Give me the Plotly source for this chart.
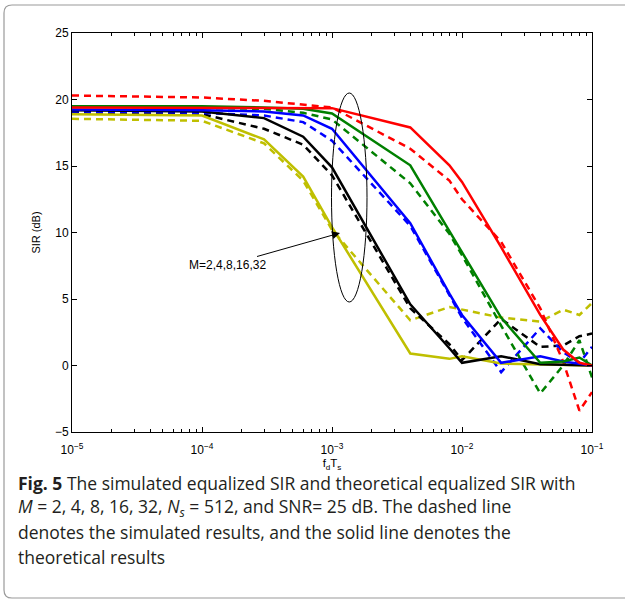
import plotly.graph_objects as go

# ---- data ----
fdTs = [1e-5, 1e-4, 3e-4, 6e-4, 1e-3, 4e-3, 8e-3, 1e-2, 2e-2, 4e-2, 6e-2, 8e-2, 1e-1]

theory_M2  = [19.4, 19.4, 19.4, 19.4, 19.35, 17.9, 15.05, 13.8, 8.9, 3.8, 1.2, 0.2, 0.0]
sim_M2     = [20.3, 20.15, 19.9, 19.6, 19.4, 16.3, 13.9, 12.5, 9.3, 4.3, 0.3, -3.4, -2.0]
theory_M4  = [19.5, 19.5, 19.4, 19.3, 18.95, 15.05, 10.1, 8.5, 3.6, 0.2, 0.3, 0.6, 0.0]
sim_M4     = [19.5, 19.4, 19.3, 19.0, 18.5, 13.7, 9.9, 8.3, 3.0, -2.1, 0.0, 1.9, -0.9]
theory_M8  = [19.25, 19.2, 19.1, 18.8, 17.8, 10.7, 5.4, 3.8, 0.2, 0.7, 0.3, 0.1, 0.0]
sim_M8     = [19.1, 19.0, 18.8, 18.3, 16.9, 10.5, 5.3, 3.6, -0.5, 2.8, 1.0, 0.2, 1.4]
theory_M16 = [19.2, 19.1, 18.6, 17.2, 14.9, 4.6, 1.3, 0.2, 0.7, 0.1, 0.05, 0.0, 0.0]
sim_M16    = [19.05, 18.9, 17.8, 16.6, 14.3, 4.3, 1.6, 0.4, 3.5, 1.4, 1.5, 2.2, 2.4]
theory_M32 = [18.9, 18.8, 17.0, 14.2, 10.4, 0.9, 0.5, 0.7, 0.15, 0.1, 0.05, 0.0, 0.0]
sim_M32    = [18.55, 18.4, 16.7, 13.9, 10.2, 3.4, 4.4, 4.2, 3.6, 3.3, 4.2, 3.8, 4.7]

x_tickvals = [1e-5, 1e-4, 1e-3, 1e-2, 1e-1]
x_ticktext = ["10<sup>−5</sup>", "10<sup>−4</sup>", "10<sup>−3</sup>", "10<sup>−2</sup>", "10<sup>−1</sup>"]
y_tickvals = [-5, 0, 5, 10, 15, 20, 25]

series = [
    ("M=32", theory_M32, sim_M32, "#BFBF00"),
    ("M=16", theory_M16, sim_M16, "#000000"),
    ("M=8", theory_M8, sim_M8, "#0000FF"),
    ("M=4", theory_M4, sim_M4, "#008000"),
    ("M=2", theory_M2, sim_M2, "#FF0000"),
]

fig = go.Figure()
for name, th, sim, col in series:
    fig.add_trace(go.Scatter(x=fdTs, y=sim, mode="lines", name=name + " sim",
                             line=dict(color=col, width=2.5, dash="7px,5px")))
for name, th, sim, col in series:
    fig.add_trace(go.Scatter(x=fdTs, y=th, mode="lines", name=name + " theory",
                             line=dict(color=col, width=2.5)))

W, H = 625, 606
L, R, T, B = 72, 33, 33, 174
pw, ph = W - L - R, H - T - B

def px(xp):
    return (xp - L) / pw

def py(yp):
    return (H - B - yp) / ph

minor_vals = [m * 10.0 ** e for e in range(-5, -1) for m in range(2, 10)]

axis_font = dict(family="Liberation Sans, Arial, sans-serif", size=12, color="#000")

fig.update_layout(
    width=W, height=H,
    margin=dict(l=L, r=R, t=T, b=B),
    paper_bgcolor="white", plot_bgcolor="white",
    showlegend=False,
    font=axis_font,
    xaxis=dict(
        type="log", range=[-5, -1],
        tickvals=x_tickvals, ticktext=x_ticktext,
        ticks="inside", ticklen=5, tickcolor="#000",
        showline=True, linecolor="#000", linewidth=1, mirror="ticks",
        showgrid=False, zeroline=False,
        minor=dict(tickvals=minor_vals, ticks="inside", ticklen=3, tickcolor="#000", showgrid=False),
        title=dict(text="f<sub>d</sub>T<sub>s</sub>",
                   font=dict(family=axis_font["family"], size=11.5, color="#000"), standoff=0),
        tickfont=axis_font,
        ticklabelstandoff=7,
    ),
    yaxis=dict(
        range=[-5, 25], tickvals=y_tickvals,
        ticks="inside", ticklen=5, tickcolor="#000",
        showline=True, linecolor="#000", linewidth=1, mirror="ticks",
        showgrid=False, zeroline=False,
        title=dict(text="SIR (dB)", font=dict(family=axis_font["family"], size=11, color="#000"), standoff=12),
        tickfont=axis_font,
    ),
)

# ellipse + arrow annotation
fig.add_shape(type="circle", xref="paper", yref="paper",
              x0=px(331.5), x1=px(367), y0=py(302), y1=py(93),
              line=dict(color="#000", width=1))
fig.add_annotation(xref="paper", yref="paper", x=px(340), y=py(233),
                   ax=-113, ay=32, text="M=2,4,8,16,32",
                   showarrow=True, arrowhead=2, arrowsize=1.6, arrowwidth=1,
                   arrowcolor="#000", font=axis_font)

# rounded border frame
x0b, x1b = px(4), px(640)
y0b, y1b = py(598), py(5)
rx, ry = 8 / pw, 8 / ph
path = (f"M {x0b + rx},{y1b} L {x1b},{y1b} L {x1b},{y0b} L {x0b + rx},{y0b} "
        f"Q {x0b},{y0b} {x0b},{y0b + ry} L {x0b},{y1b - ry} Q {x0b},{y1b} {x0b + rx},{y1b} Z")
fig.add_shape(type="path", xref="paper", yref="paper", path=path,
              line=dict(color="#9a9a9a", width=1.2))

# caption
cap_font = dict(family="Open Sans, sans-serif", size=17.5, color="#231f20")
caption_lines = [
    "<b>Fig. 5</b> The simulated equalized SIR and theoretical equalized SIR with",
    "<i>M</i> = 2, 4, 8, 16, 32, <i>N</i><sub><i>s</i></sub> = 512, and SNR= 25 dB. The dashed line",
    "denotes the simulated results, and the solid line denotes the",
    "theoretical results",
]
cap_y = [483, 507, 532, 557]
for txt, yy in zip(caption_lines, cap_y):
    fig.add_annotation(xref="paper", yref="paper", x=px(17), y=py(yy),
                       xanchor="left", yanchor="middle", showarrow=False,
                       text=txt, font=cap_font, align="left", borderpad=0)

fig.write_html("out.html", config={"displayModeBar": False},
               post_script="document.body.style.margin='0px';")
